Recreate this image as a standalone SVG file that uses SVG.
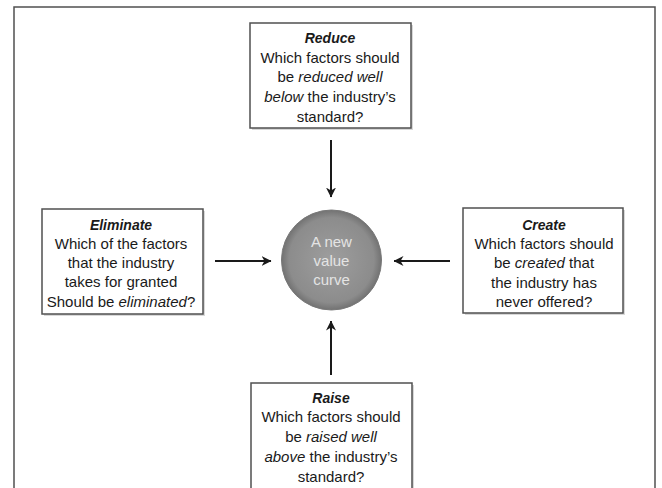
<svg xmlns="http://www.w3.org/2000/svg" width="662" height="488" viewBox="0 0 662 488">
<defs>
<style>
.box{fill:#fff;stroke:#505050;stroke-width:1.5}
.shadow{fill:#d8d8d8}
.t{font-family:"Liberation Sans",Arial,sans-serif;font-size:15px;fill:#1a1a1a;text-anchor:middle}
.h{font-weight:bold;font-style:italic;font-size:14px}
.i{font-style:italic}
.c{font-family:"Liberation Sans",Arial,sans-serif;font-size:15px;fill:#e4e4e4;text-anchor:middle}
.conn{stroke:#1a1a1a;stroke-width:2;fill:none}
</style>
<radialGradient id="g" cx="50%" cy="50%" r="50%">
<stop offset="0" stop-color="#9e9e9e"/>
<stop offset="0.85" stop-color="#8c8c8c"/>
<stop offset="1" stop-color="#727272"/>
</radialGradient>
<marker id="arr" viewBox="0 0 10 10" refX="9.5" refY="5" markerWidth="5" markerHeight="5" markerUnits="strokeWidth" orient="auto">
<path d="M0,0 L10,5 L0,10 L3,5 z" fill="#1a1a1a"/>
</marker>
</defs>
<rect width="662" height="488" fill="#fff"/>
<path d="M14,490 L14,7 L655,7 L655,490" fill="none" stroke="#505050" stroke-width="1.5"/>

<g id="connectors">
<line class="conn" x1="331" y1="140" x2="331" y2="197" marker-end="url(#arr)"/>
<line class="conn" x1="215" y1="261" x2="271" y2="261" marker-end="url(#arr)"/>
<line class="conn" x1="450" y1="261" x2="394" y2="261" marker-end="url(#arr)"/>
<line class="conn" x1="331" y1="375" x2="331" y2="321" marker-end="url(#arr)"/>
</g>

<g id="reduce">
<rect class="shadow" x="252" y="25" width="161" height="105"/>
<rect class="box" x="250" y="23" width="161" height="105"/>
<text class="t" x="330" y="43"><tspan class="h">Reduce</tspan></text>
<text class="t" x="330" y="63">Which factors should</text>
<text class="t" x="330" y="82">be <tspan class="i">reduced well</tspan></text>
<text class="t" x="330" y="102"><tspan class="i">below</tspan> the industry’s</text>
<text class="t" x="330" y="122">standard?</text>
</g>

<g id="eliminate">
<rect class="shadow" x="44" y="211" width="161" height="105"/>
<rect class="box" x="42" y="209" width="161" height="105"/>
<text class="t" x="121" y="230"><tspan class="h">Eliminate</tspan></text>
<text class="t" x="121" y="249">Which of the factors</text>
<text class="t" x="121" y="268">that the industry</text>
<text class="t" x="121" y="287">takes for granted</text>
<text class="t" x="121" y="307">Should be <tspan class="i">eliminated</tspan>?</text>
</g>

<g id="create">
<rect class="shadow" x="465" y="210" width="160" height="105"/>
<rect class="box" x="463" y="208" width="160" height="105"/>
<text class="t" x="544" y="230"><tspan class="h">Create</tspan></text>
<text class="t" x="544" y="249">Which factors should</text>
<text class="t" x="544" y="268">be <tspan class="i">created</tspan> that</text>
<text class="t" x="544" y="288">the industry has</text>
<text class="t" x="544" y="307">never offered?</text>
</g>

<g id="raise">
<rect class="shadow" x="253" y="385" width="161" height="106"/>
<rect class="box" x="251" y="383" width="161" height="106"/>
<text class="t" x="331" y="403"><tspan class="h">Raise</tspan></text>
<text class="t" x="331" y="422">Which factors should</text>
<text class="t" x="331" y="442">be <tspan class="i">raised well</tspan></text>
<text class="t" x="331" y="462"><tspan class="i">above</tspan> the industry’s</text>
<text class="t" x="331" y="482">standard?</text>
</g>

<g id="center">
<circle cx="331.5" cy="260" r="50" fill="url(#g)" stroke="#787878" stroke-width="1"/>
<text class="c" x="331.5" y="247">A new</text>
<text class="c" x="331.5" y="266">value</text>
<text class="c" x="331.5" y="285">curve</text>
</g>
</svg>
